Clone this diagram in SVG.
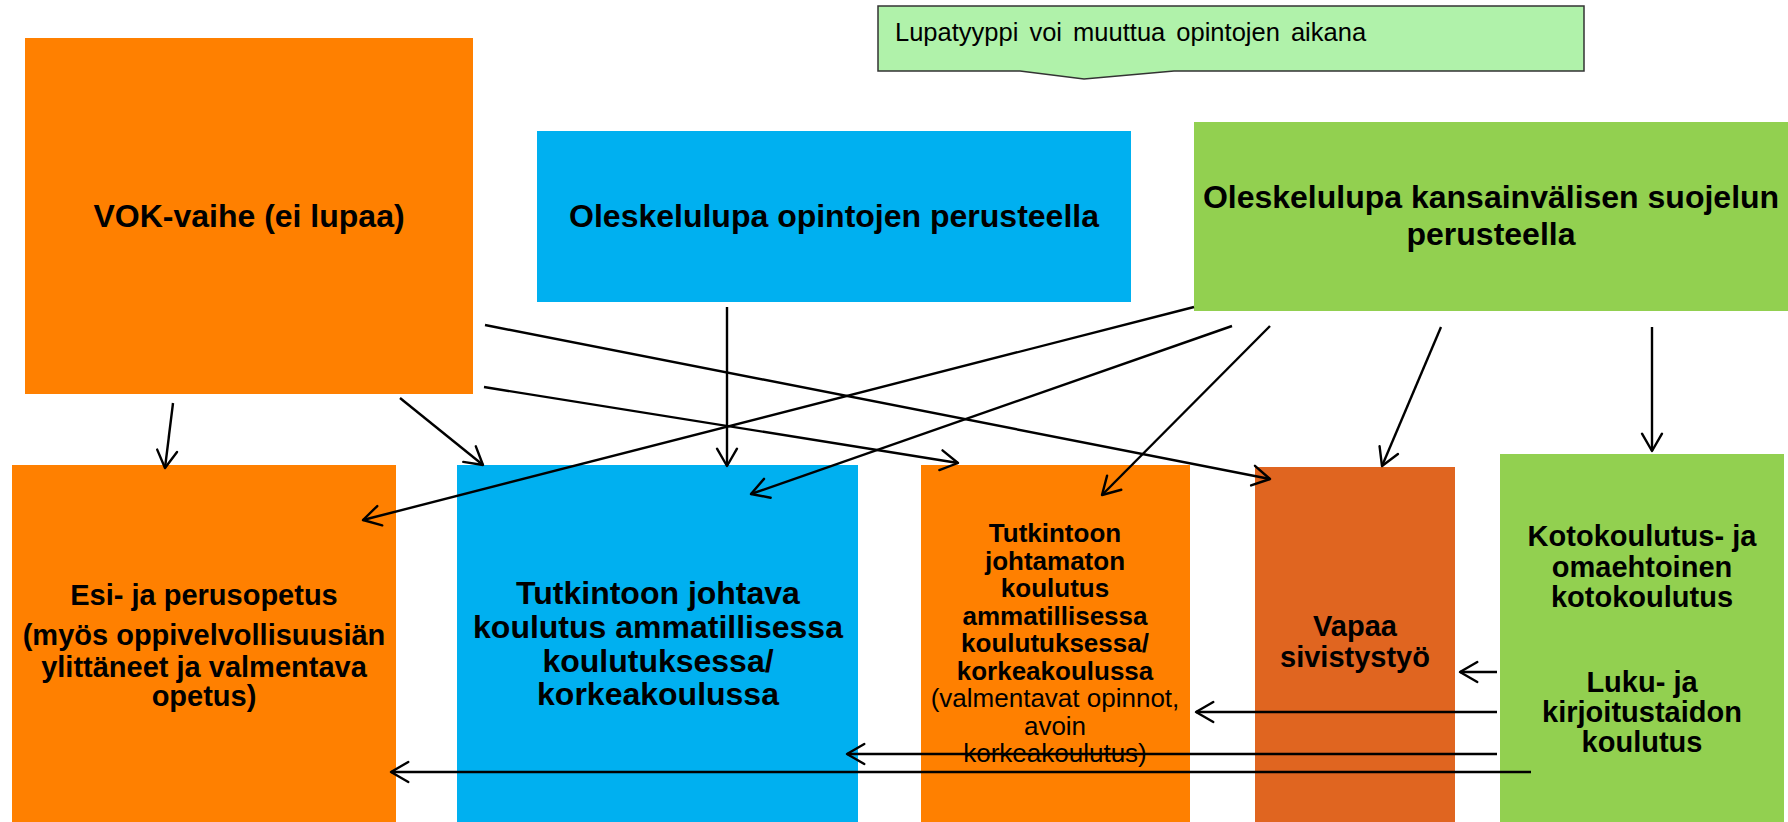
<svg xmlns="http://www.w3.org/2000/svg" width="1788" height="822" viewBox="0 0 1788 822">
  <style>
    .t { font-family: "Liberation Sans", Arial, sans-serif; fill: #000; text-anchor: middle; }
    .b { font-weight: bold; }
    .conn { stroke: #000; stroke-width: 2.4; fill: none; marker-end: url(#arr); }
  </style>
  <defs>
    <marker id="arr" markerUnits="userSpaceOnUse" markerWidth="24" markerHeight="26" viewBox="-2 -2 24 26" refX="17.3" refY="11" orient="auto">
      <path d="M0,1 L17.3,11 L0,21" fill="none" stroke="#000" stroke-width="2.4" stroke-linecap="round" stroke-linejoin="round"/>
    </marker>
  </defs>
  <rect width="1788" height="822" fill="#fff"/>

  <g id="callout">
    <path d="M878,6 L1584,6 L1584,71 L1174,71 L1084,79 L1020,71 L878,71 Z" fill="#B0F2AA" stroke="#333" stroke-width="1.5"/>
    <text x="895" y="41" font-family="Liberation Sans, Arial, sans-serif" font-size="25.5" word-spacing="4">Lupatyyppi voi muuttua opintojen aikana</text>
  </g>

  <g id="vok">
    <rect x="25" y="38" width="448" height="356" fill="#FF8000"/>
    <text class="t b" x="249" y="227" font-size="32">VOK-vaihe (ei lupaa)</text>
  </g>

  <g id="opinto-lupa">
    <rect x="537" y="131" width="594" height="171" fill="#00B0F0"/>
    <text class="t b" x="834" y="227" font-size="32">Oleskelulupa opintojen perusteella</text>
  </g>

  <g id="suojelu-lupa">
    <rect x="1194" y="122" width="594" height="189" fill="#92D050"/>
    <text class="t b" x="1491" y="208" font-size="32">Oleskelulupa kansainvälisen suojelun</text>
    <text class="t b" x="1491" y="245" font-size="32">perusteella</text>
  </g>

  <g id="esi">
    <rect x="12" y="465" width="384" height="357" fill="#FF8000"/>
    <text class="t b" x="204" y="605" font-size="29">Esi- ja perusopetus</text>
    <text class="t b" x="204" y="645" font-size="29">(myös oppivelvollisuusiän</text>
    <text class="t b" x="204" y="677" font-size="29">ylittäneet ja valmentava</text>
    <text class="t b" x="204" y="706" font-size="29">opetus)</text>
  </g>

  <g id="tutkinto">
    <rect x="457" y="465" width="401" height="357" fill="#00B0F0"/>
    <text class="t b" x="658" y="604" font-size="32">Tutkintoon johtava</text>
    <text class="t b" x="658" y="638" font-size="32">koulutus ammatillisessa</text>
    <text class="t b" x="658" y="672" font-size="32">koulutuksessa/</text>
    <text class="t b" x="658" y="705" font-size="32">korkeakoulussa</text>
  </g>

  <g id="johtamaton">
    <rect x="921" y="465" width="269" height="357" fill="#FF8000"/>
    <text class="t b" x="1055" y="542" font-size="26">Tutkintoon</text>
    <text class="t b" x="1055" y="569.5" font-size="26">johtamaton</text>
    <text class="t b" x="1055" y="597" font-size="26">koulutus</text>
    <text class="t b" x="1055" y="624.5" font-size="26">ammatillisessa</text>
    <text class="t b" x="1055" y="652" font-size="26">koulutuksessa/</text>
    <text class="t b" x="1055" y="679.5" font-size="26">korkeakoulussa</text>
    <text class="t" x="1055" y="707" font-size="26">(valmentavat opinnot,</text>
    <text class="t" x="1055" y="734.5" font-size="26">avoin</text>
    <text class="t" x="1055" y="762" font-size="26">korkeakoulutus)</text>
  </g>

  <g id="vapaa">
    <rect x="1255" y="467" width="200" height="355" fill="#E06520"/>
    <text class="t b" x="1355" y="636" font-size="29">Vapaa</text>
    <text class="t b" x="1355" y="667" font-size="29">sivistystyö</text>
  </g>

  <g id="koto">
    <rect x="1500" y="454" width="284" height="368" fill="#92D050"/>
    <text class="t b" x="1642" y="546" font-size="29">Kotokoulutus- ja</text>
    <text class="t b" x="1642" y="577" font-size="29">omaehtoinen</text>
    <text class="t b" x="1642" y="607" font-size="29">kotokoulutus</text>
    <text class="t b" x="1642" y="692" font-size="29">Luku- ja</text>
    <text class="t b" x="1642" y="722" font-size="29">kirjoitustaidon</text>
    <text class="t b" x="1642" y="752" font-size="29">koulutus</text>
  </g>

  <g id="connectors">
    <line class="conn" x1="173" y1="403" x2="165" y2="468"/>
    <line class="conn" x1="400" y1="398" x2="483" y2="465"/>
    <line class="conn" x1="484" y1="387" x2="958" y2="463"/>
    <line class="conn" x1="485" y1="325" x2="1270" y2="479"/>
    <line class="conn" x1="727" y1="307" x2="727" y2="466"/>
    <line class="conn" x1="1194" y1="307" x2="363" y2="520"/>
    <line class="conn" x1="1232" y1="326" x2="751" y2="494"/>
    <line class="conn" x1="1270" y1="326" x2="1102" y2="495"/>
    <line class="conn" x1="1441" y1="327" x2="1382" y2="466"/>
    <line class="conn" x1="1652" y1="327" x2="1652" y2="451"/>
    <line class="conn" x1="1497" y1="672" x2="1460" y2="672"/>
    <line class="conn" x1="1497" y1="712" x2="1196" y2="712"/>
    <line class="conn" x1="1497" y1="754" x2="847" y2="754"/>
    <line class="conn" x1="1531" y1="772" x2="391" y2="772"/>
  </g>
</svg>
